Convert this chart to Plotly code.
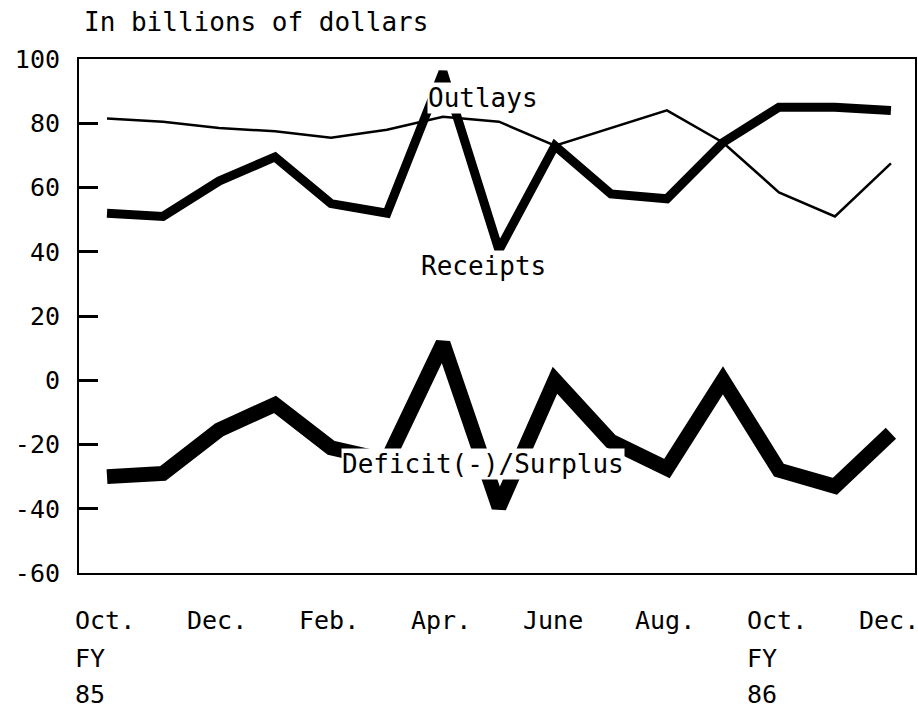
import plotly.graph_objects as go

# Monthly federal budget, FY85 Oct. through FY86 Dec. (billions of dollars)
months = ["Oct.", "Nov.", "Dec.", "Jan.", "Feb.", "Mar.", "Apr.", "May",
          "June", "July", "Aug.", "Sep.", "Oct.", "Nov.", "Dec."]
outlays = [81.5, 80.5, 78.5, 77.5, 75.5, 78, 82, 80.5, 73, 78.5, 84, 74, 58.5, 51, 67.5]
receipts = [52, 51, 62, 69.5, 55, 52, 96, 40.5, 73, 58, 56.5, 74, 85, 85, 84]
deficit = [-30, -29, -15.5, -7.5, -21, -25, 11.5, -39.5, 0, -19, -27.5, 0, -28, -33, -16.5]

# axis labels
x_label_idx = [0, 2, 4, 6, 8, 10, 12, 14]
fy_label_idx = [0, 12]
fy_years = ["85", "86"]
y_tickvals = [-60, -40, -20, 0, 20, 40, 60, 80, 100]
y_ticktext = ["-60", "-40", "-20", "0", "20", "40", "60", "80", "100"]

FONT = "DejaVu Sans Mono"
x = list(range(len(months)))

fig = go.Figure()

# thin line = outlays, thick = receipts, thickest = deficit/surplus
fig.add_trace(go.Scatter(x=x, y=outlays, mode="lines",
                         line=dict(color="black", width=2.5), name="Outlays"))
fig.add_trace(go.Scatter(x=x, y=receipts, mode="lines",
                         line=dict(color="black", width=9), name="Receipts"))
fig.add_trace(go.Scatter(x=x, y=deficit, mode="lines",
                         line=dict(color="black", width=15), name="Deficit(-)/Surplus"))

annotations = []

# series labels sitting on white boxes over the lines
for txt, yv in [("Outlays", 88), ("Receipts", 35.5), ("Deficit(-)/Surplus", -26)]:
    annotations.append(dict(x=6.72, y=yv, xref="x", yref="y", text=txt,
                            showarrow=False, bgcolor="white", borderpad=0,
                            font=dict(family=FONT, size=26, color="black")))

# unit title above the frame
annotations.append(dict(x=0, y=1, xref="paper", yref="paper", xanchor="left",
                        yanchor="middle", xshift=3, yshift=37,
                        text="In billions of dollars", showarrow=False,
                        font=dict(family=FONT, size=26, color="black")))

# month labels under the frame, left aligned
for i in x_label_idx:
    annotations.append(dict(x=i, y=0, xref="x", yref="paper", xanchor="left",
                            yanchor="middle", xshift=-34, yshift=-47,
                            text=months[i], showarrow=False,
                            font=dict(family=FONT, size=25, color="black")))

for i, yr in zip(fy_label_idx, fy_years):
    for txt, ys in [("FY", -85), (yr, -121)]:
        annotations.append(dict(x=i, y=0, xref="x", yref="paper", xanchor="left",
                                yanchor="middle", xshift=-34, yshift=ys,
                                text=txt, showarrow=False,
                                font=dict(family=FONT, size=25, color="black")))

fig.update_layout(
    width=918, height=709,
    margin=dict(l=79, r=1, t=59, b=136, pad=0),
    paper_bgcolor="white", plot_bgcolor="white",
    showlegend=False,
    font=dict(family=FONT, size=25, color="black"),
    annotations=annotations,
    xaxis=dict(range=[-0.5, 14.43], showline=True, mirror=True, linecolor="black",
               linewidth=2, showgrid=False, zeroline=False, showticklabels=False,
               ticks=""),
    yaxis=dict(range=[-60, 100], tickvals=y_tickvals, ticktext=y_ticktext,
               ticks="inside", ticklen=19, tickwidth=2.5, tickcolor="black",
               showline=True, mirror=True, linecolor="black", linewidth=2,
               showgrid=False, zeroline=False, ticklabelstandoff=12,
               tickfont=dict(family=FONT, size=25, color="black")),
)

# drop the page's default body margin so the figure sits at the window corner
fig.write_html("out.html", config={"displayModeBar": False},
               post_script="document.body.style.margin='0';")
